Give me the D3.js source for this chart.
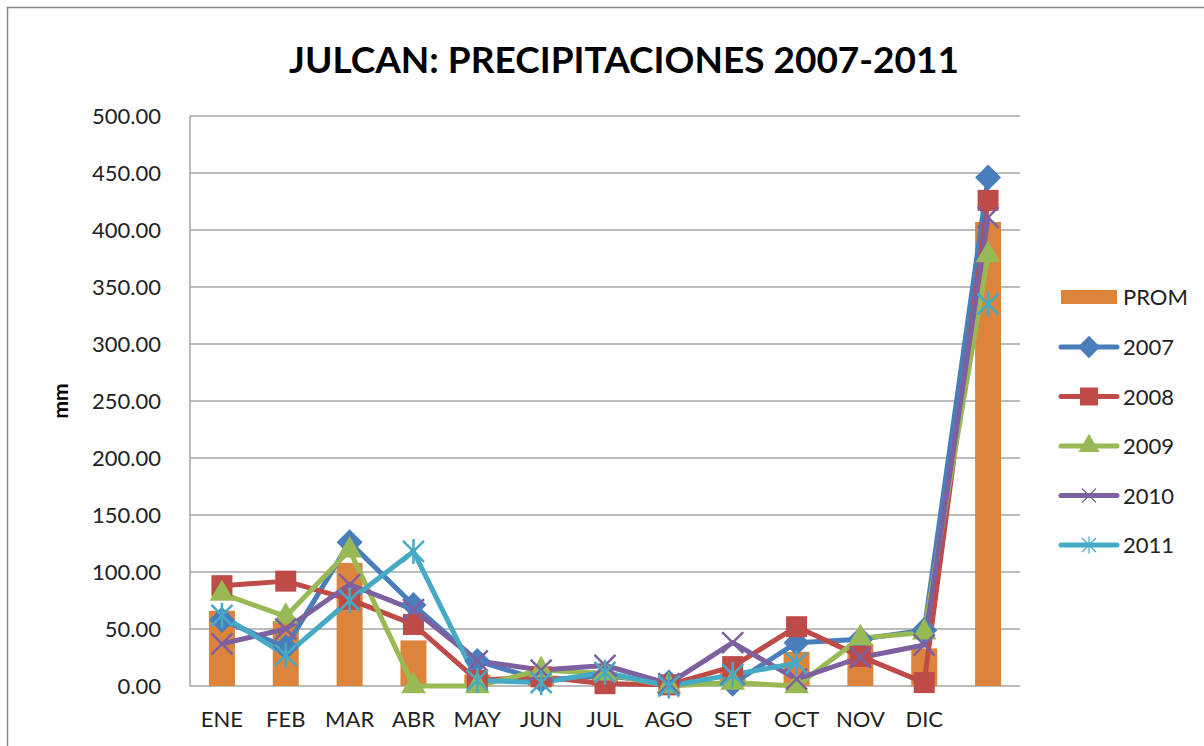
<!DOCTYPE html>
<html>
<head>
<meta charset="utf-8">
<script src="https://cdn.jsdelivr.net/npm/d3@7"></script>
<style>
  body { margin: 0; background: #fff; }
  svg { font-family: Lato, "Open Sans", sans-serif; }
</style>
</head>
<body>
<svg id="chart" width="1204" height="746"></svg>
<script>
// datos
const meses = ["ENE", "FEB", "MAR", "ABR", "MAY", "JUN", "JUL", "AGO", "SET", "OCT", "NOV", "DIC", ""];
const prom = [66, 57, 108, 40, 10, 8, 10, 1, 12, 30, 37, 33, 407];
const s2007 = [58, 34, 126, 71, 22, 5, 9, 3, 2, 38, 41, 49, 446];
const s2008 = [88, 92, 76, 54, 5, 8, 2, 1, 17, 52, 26, 3, 426];
const s2009 = [81, 61, 119, 0, 0, 14, 11, 0, 3, 0, 42, 47, 378];
const s2010 = [37, 50, 89, 67, 22, 14, 18, 2, 38, 6, 25, 36, 411];
const s2011 = [62, 27, 75, 118, 5, 3, 12, 0, 10, 20, null, null, 335];
const yTicks = [0, 50, 100, 150, 200, 250, 300, 350, 400, 450, 500];

const series = [
  { name: "2007", values: s2007, color: "#4A7EBB", symbol: "diamond" },
  { name: "2008", values: s2008, color: "#BE4B48", symbol: "square" },
  { name: "2009", values: s2009, color: "#98B954", symbol: "triangle" },
  { name: "2010", values: s2010, color: "#7D60A0", symbol: "x" },
  { name: "2011", values: s2011, color: "#46AAC5", symbol: "star" }
];

const svg = d3.select("#chart");
const margin = { top: 116, left: 190, right: 184, bottom: 60 };
const width = 1204 - margin.left - margin.right;
const height = 746 - margin.top - margin.bottom;

// borde exterior
svg.append("rect")
  .attr("x", 7.5).attr("y", 7.5)
  .attr("width", 1204).attr("height", 746)
  .attr("fill", "none").attr("stroke", "#888").attr("stroke-width", 1.5);

svg.append("text")
  .attr("x", 624).attr("y", 73)
  .attr("text-anchor", "middle")
  .attr("font-size", 37).attr("font-weight", "bold")
  .text("JULCAN: PRECIPITACIONES 2007-2011");

const g = svg.append("g")
  .attr("transform", "translate(" + margin.left + "," + margin.top + ")");

const x = d3.scaleBand().domain(d3.range(meses.length)).range([0, width]);
const y = d3.scaleLinear().domain([0, 500]).range([height, 0]);

// rejilla
g.selectAll(".grid")
  .data(yTicks)
  .join("line")
  .attr("x1", 0).attr("x2", width)
  .attr("y1", d => y(d)).attr("y2", d => y(d))
  .attr("stroke", "#a6a6a6").attr("stroke-width", 1.5);

g.append("line")
  .attr("x1", 0).attr("x2", 0).attr("y1", 0).attr("y2", height)
  .attr("stroke", "#a6a6a6").attr("stroke-width", 1.5);

// eje y
const yAxis = g.append("g")
  .call(d3.axisLeft(y).tickValues(yTicks).tickFormat(d3.format(".2f")).tickSize(0).tickPadding(29));
yAxis.select(".domain").remove();
yAxis.selectAll("text").attr("font-size", 22).attr("fill", "#222").attr("font-family", "Lato, sans-serif");

// eje x
const xAxis = g.append("g")
  .attr("transform", "translate(0," + height + ")")
  .call(d3.axisBottom(x).tickFormat(i => meses[i]).tickSize(0).tickPadding(25));
xAxis.select(".domain").remove();
xAxis.selectAll("text").attr("font-size", 22).attr("fill", "#222").attr("font-family", "Lato, sans-serif");

svg.append("text")
  .attr("transform", "translate(68," + (margin.top + height / 2) + ") rotate(-90)")
  .attr("text-anchor", "middle")
  .attr("font-size", 21).attr("font-weight", "bold")
  .text("mm");

// barras PROM
const barW = 26;
g.selectAll(".bar")
  .data(prom)
  .join("rect")
  .attr("class", "bar")
  .attr("x", (d, i) => x(i) + x.bandwidth() / 2 - barW / 2)
  .attr("y", d => y(d))
  .attr("width", barW)
  .attr("height", d => height - y(d))
  .attr("fill", "#DD843C");

function drawSymbol(sel, type, color, size) {
  if (type === "diamond") {
    const h = size * 0.62;
    sel.append("path").attr("d", `M0,${-h}L${h},0L0,${h}L${-h},0Z`).attr("fill", color);
  } else if (type === "square") {
    sel.append("rect").attr("x", -size / 2).attr("y", -size / 2)
      .attr("width", size).attr("height", size).attr("fill", color);
  } else if (type === "triangle") {
    sel.append("path").attr("d", d3.symbol(d3.symbolTriangle, size * size * 0.6)()).attr("fill", color);
  } else if (type === "x") {
    const h = size / 2;
    sel.append("path").attr("d", `M${-h},${-h}L${h},${h}M${-h},${h}L${h},${-h}`)
      .attr("stroke", color).attr("stroke-width", 2.5).attr("fill", "none");
  } else if (type === "star") {
    const h = size / 2;
    sel.append("path").attr("d", `M${-h},${-h}L${h},${h}M${-h},${h}L${h},${-h}M0,${-h * 1.2}L0,${h * 1.2}`)
      .attr("stroke", color).attr("stroke-width", 2.5).attr("fill", "none");
  }
}

const line = d3.line()
  .defined(d => d != null)
  .x((d, i) => x(i) + x.bandwidth() / 2)
  .y(d => y(d));

series.forEach(s => {
  g.append("path")
    .datum(s.values)
    .attr("fill", "none")
    .attr("stroke", s.color)
    .attr("stroke-width", 5)
    .attr("stroke-linejoin", "round")
    .attr("d", line);
});

series.forEach(s => {
  g.selectAll(".pt-" + s.name)
    .data(s.values.map((v, i) => ({ v, i })).filter(d => d.v != null))
    .join("g")
    .attr("transform", d => "translate(" + (x(d.i) + x.bandwidth() / 2) + "," + y(d.v) + ")")
    .each(function() { drawSymbol(d3.select(this), s.symbol, s.color, 21); });
});

// leyenda
const legend = svg.append("g").attr("transform", "translate(1061,297)");
legend.append("rect").attr("x", 0).attr("y", -7).attr("width", 56).attr("height", 14).attr("fill", "#DD843C");
legend.append("text").attr("x", 62).attr("y", 8).attr("font-size", 22).attr("fill", "#222").text("PROM");
series.forEach((s, k) => {
  const row = legend.append("g").attr("transform", "translate(0," + (50 + k * 49.5) + ")");
  row.append("line").attr("x1", 0).attr("x2", 56)
    .attr("stroke", s.color).attr("stroke-width", 5).attr("stroke-linecap", "round");
  const m = row.append("g").attr("transform", "translate(28,0)");
  if (s.symbol === "x" || s.symbol === "star") {
    drawSymbol(m, s.symbol, s.color, 14);
    m.selectAll("path").attr("stroke-width", 1.2);
  } else {
    drawSymbol(m, s.symbol, s.color, 18);
  }
  row.append("text").attr("x", 62).attr("y", 8).attr("font-size", 22).attr("fill", "#222").text(s.name);
});
</script>
</body>
</html>
